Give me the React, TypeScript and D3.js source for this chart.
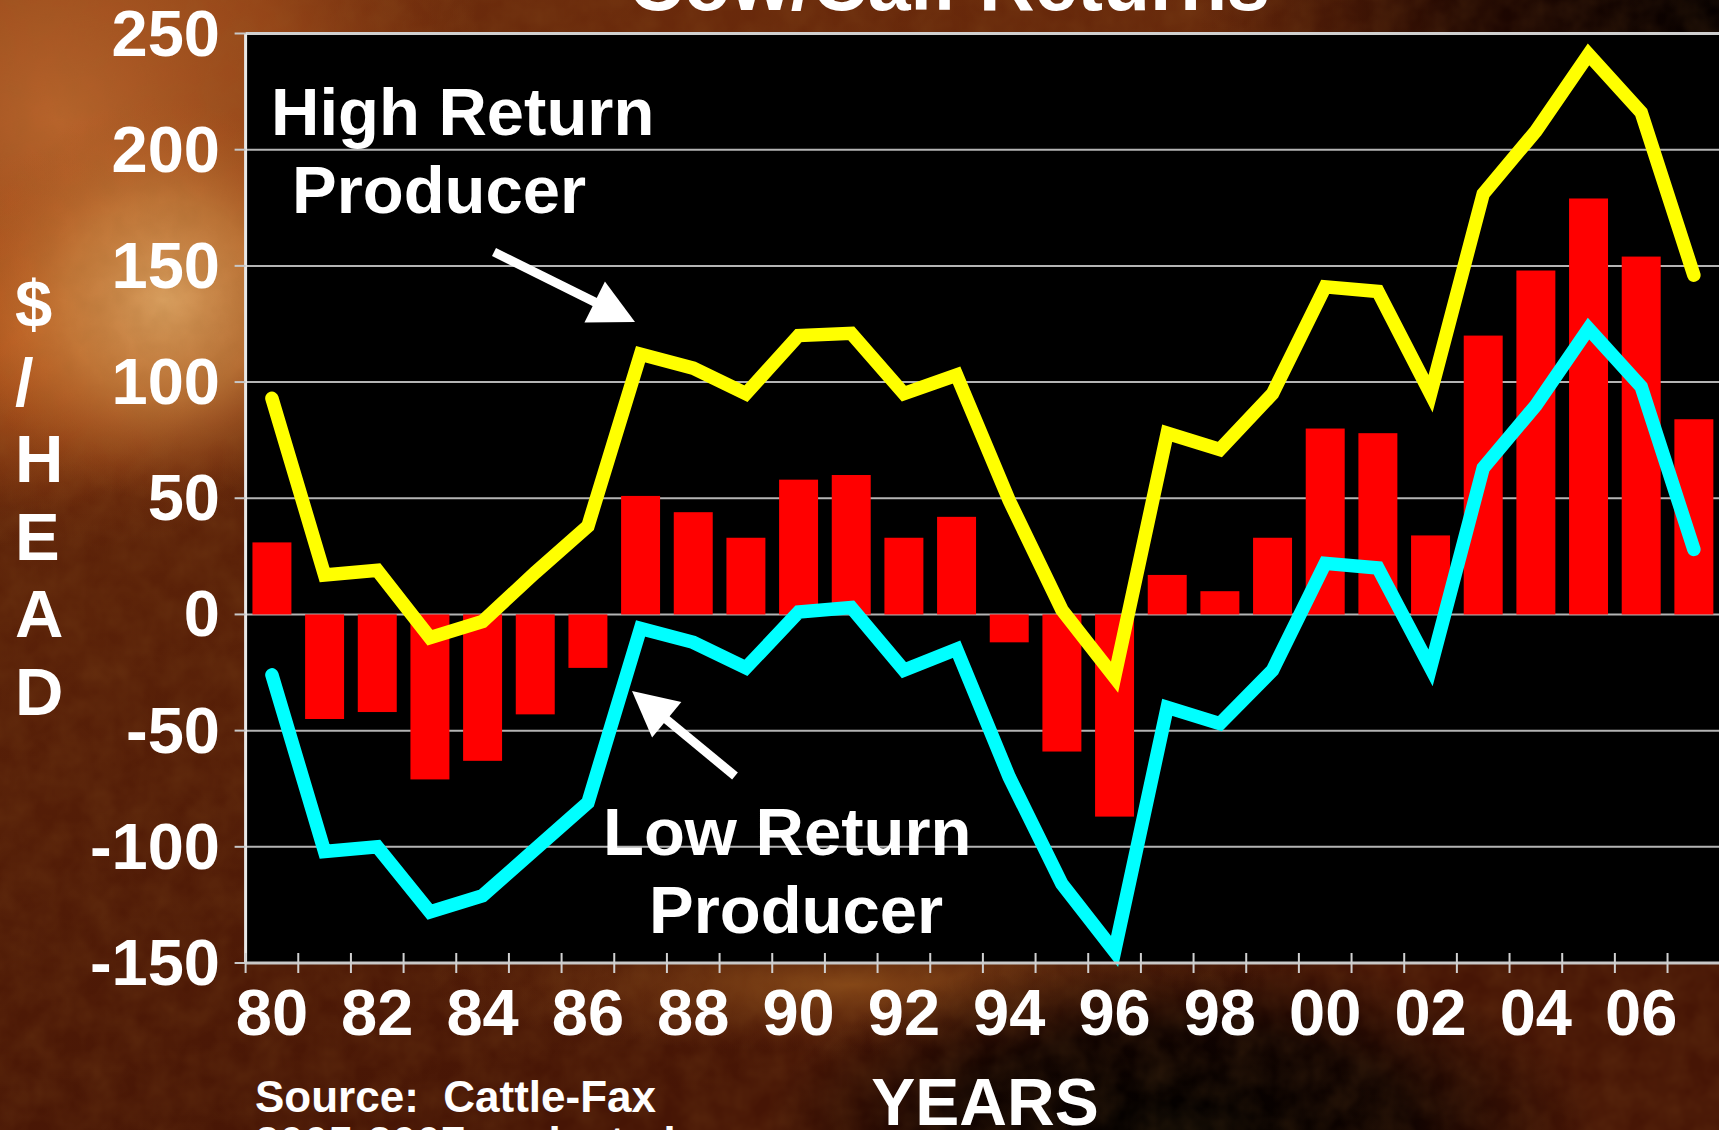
import React from 'react';
import * as d3 from 'd3';

// ---- data ----
const years = [1980,1981,1982,1983,1984,1985,1986,1987,1988,1989,1990,1991,1992,1993,1994,1995,1996,1997,1998,1999,2000,2001,2002,2003,2004,2005,2006,2007];
const averageReturn = [31,-45,-42,-71,-63,-43,-23,51,44,33,58,60,33,42,-12,-59,-87,17,10,33,80,78,34,120,148,179,154,84];
const highReturn = [93,17,19,-10,-3,18,38,112,106,95,120,121,95,103,49,2,-27,78,71,95,141,139,95,181,208,241,216,146];
const lowReturn = [-26,-102,-100,-128,-121,-101,-81,-6,-12,-23,1,3,-24,-15,-70,-116,-145,-40,-47,-24,22,20,-23,63,90,123,98,28];
const yTicks = [250,200,150,100,50,0,-50,-100,-150];
const xTickYears = [1980,1982,1984,1986,1988,1990,1992,1994,1996,1998,2000,2002,2004,2006];
const xTickLabels = ['80','82','84','86','88','90','92','94','96','98','00','02','04','06'];
const yAxisLetters = ['$','/','H','E','A','D'];

const W = 1719, H = 1130;
const FONT = '"Liberation Sans", Arial, Helvetica, sans-serif';

function Arrow({ x1, y1, x2, y2 }: { x1: number; y1: number; x2: number; y2: number }) {
  const dx = x2 - x1, dy = y2 - y1;
  const len = Math.hypot(dx, dy);
  const ux = dx / len, uy = dy / len;
  const hl = 45, hw = 23;
  const bx = x2 - ux * hl, by = y2 - uy * hl;
  const px = -uy, py = ux;
  return (
    <g>
      <line x1={x1} y1={y1} x2={bx + ux * 2} y2={by + uy * 2} stroke="#fff" strokeWidth={9} />
      <polygon points={`${x2},${y2} ${bx + px * hw},${by + py * hw} ${bx - px * hw},${by - py * hw}`} fill="#fff" />
    </g>
  );
}

export default function App() {
  const left = 245.6, right = 1720.2, top = 33.5, bottom = 963;
  const x = d3.scaleBand<number>().domain(years).range([left, right]).paddingInner(0).paddingOuter(0);
  const y = d3.scaleLinear().domain([-150, 250]).range([bottom, top]);
  const bw = x.bandwidth();
  const barW = bw * 0.74;
  const cx = (yr: number) => (x(yr) as number) + bw / 2;

  const line = d3.line<number>().x((_, i) => cx(years[i])).y((v) => y(v));

  return (
    <svg width={W} height={H} style={{ position: 'absolute', left: 0, top: 0 }} xmlns="http://www.w3.org/2000/svg">
      <defs>
        <linearGradient id="gBase" x1="0" y1="0" x2="0.3" y2="1">
          <stop offset="0" stopColor="#6e2c0c" />
          <stop offset="0.5" stopColor="#5a2108" />
          <stop offset="1" stopColor="#461505" />
        </linearGradient>
        <radialGradient id="gTopLeft" cx="60" cy="120" r="430" gradientUnits="userSpaceOnUse">
          <stop offset="0" stopColor="#b8642c" stopOpacity="1" />
          <stop offset="0.55" stopColor="#a24e1c" stopOpacity="0.75" />
          <stop offset="1" stopColor="#8a3a12" stopOpacity="0" />
        </radialGradient>
        <radialGradient id="gOrange" cx="40" cy="330" r="180" gradientUnits="userSpaceOnUse">
          <stop offset="0" stopColor="#cc6a28" stopOpacity="0.9" />
          <stop offset="1" stopColor="#b4561c" stopOpacity="0" />
        </radialGradient>
        <radialGradient id="gTan" cx="165" cy="300" r="200" gradientUnits="userSpaceOnUse">
          <stop offset="0" stopColor="#d9a060" stopOpacity="1" />
          <stop offset="0.5" stopColor="#c8803f" stopOpacity="0.75" />
          <stop offset="1" stopColor="#b0561e" stopOpacity="0" />
        </radialGradient>
        <radialGradient id="gDarkTR" cx="1719" cy="0" r="520" gradientUnits="userSpaceOnUse">
          <stop offset="0" stopColor="#050000" stopOpacity="1" />
          <stop offset="0.5" stopColor="#1a0400" stopOpacity="0.9" />
          <stop offset="1" stopColor="#2a0800" stopOpacity="0" />
        </radialGradient>
        <radialGradient id="gDarkBottom" cx="1180" cy="1130" r="260" gradientUnits="userSpaceOnUse" gradientTransform="translate(1180 1130) scale(1.6 0.7) translate(-1180 -1130)">
          <stop offset="0" stopColor="#000000" stopOpacity="1" />
          <stop offset="0.55" stopColor="#0a0100" stopOpacity="0.9" />
          <stop offset="1" stopColor="#1a0500" stopOpacity="0" />
        </radialGradient>
        <radialGradient id="gStreak" cx="850" cy="985" r="420" gradientUnits="userSpaceOnUse" gradientTransform="translate(850 985) scale(1 0.16) translate(-850 -985)">
          <stop offset="0" stopColor="#8a4a18" stopOpacity="0.9" />
          <stop offset="1" stopColor="#6a3010" stopOpacity="0" />
        </radialGradient>
        <filter id="noise" x="0" y="0" width="100%" height="100%">
          <feTurbulence type="fractalNoise" baseFrequency="0.035" numOctaves="3" seed="7" result="n" />
          <feColorMatrix type="matrix" values="0 0 0 0 0.3  0 0 0 0 0.12  0 0 0 0 0.02  0 0 0 0.9 -0.2" />
        </filter>
      </defs>

      {/* background */}
      <rect x={0} y={0} width={W} height={H} fill="url(#gBase)" />
      <rect x={0} y={0} width={W} height={H} fill="url(#gTopLeft)" />
      <rect x={0} y={0} width={W} height={H} fill="url(#gOrange)" />
      <rect x={0} y={0} width={W} height={H} fill="url(#gTan)" />
      <rect x={0} y={0} width={W} height={H} fill="url(#gStreak)" />
      <rect x={0} y={0} width={W} height={H} fill="url(#gDarkTR)" />
      <rect x={0} y={0} width={W} height={H} fill="url(#gDarkBottom)" />
      <rect x={0} y={0} width={W} height={H} filter="url(#noise)" opacity={0.3} />

      {/* title (cut off at top) */}
      <text x={949} y={10} textAnchor="middle" fill="#fff" fontFamily={FONT} fontWeight="bold" fontSize={77}>Cow/Calf Returns</text>

      {/* plot area */}
      <rect x={left} y={top} width={right - left} height={bottom - top} fill="#000" />

      {/* gridlines */}
      {yTicks.map((t) => (
        <line key={'g' + t} x1={left} x2={right} y1={y(t)} y2={y(t)} stroke="#b4b4b4" strokeWidth={2} />
      ))}

      {/* bars */}
      {averageReturn.map((v, i) => (
        <rect key={'b' + i} x={cx(years[i]) - barW / 2} y={Math.min(y(v), y(0))} width={barW} height={Math.abs(y(v) - y(0))} fill="#ff0000" />
      ))}

      {/* lines */}
      <path d={line(highReturn) || ''} fill="none" stroke="#ffff00" strokeWidth={13.5} strokeLinejoin="miter" strokeMiterlimit={3} strokeLinecap="round" />
      <path d={line(lowReturn) || ''} fill="none" stroke="#00ffff" strokeWidth={13.5} strokeLinejoin="miter" strokeMiterlimit={3} strokeLinecap="round" />

      {/* axes frame */}
      <line x1={left} x2={right} y1={top} y2={top} stroke="#d0d0d0" strokeWidth={3} />
      <line x1={left} x2={left} y1={top} y2={bottom} stroke="#e8e8e8" strokeWidth={3} />
      <line x1={left} x2={right} y1={bottom} y2={bottom} stroke="#c8c8c8" strokeWidth={3} />

      {/* y ticks */}
      {yTicks.map((t) => (
        <g key={'yt' + t}>
          <line x1={left - 11} x2={left} y1={y(t)} y2={y(t)} stroke="#c8c8c8" strokeWidth={2} />
          <text x={220} y={y(t) + 22} textAnchor="end" fill="#fff" fontFamily={FONT} fontWeight="bold" fontSize={65}>{t}</text>
        </g>
      ))}

      {/* x ticks at band edges */}
      {years.map((yr) => (
        <line key={'xt' + yr} x1={x(yr) as number} x2={x(yr) as number} y1={bottom - 10} y2={bottom + 10} stroke="#d0d0d0" strokeWidth={2} />
      ))}
      {xTickYears.map((yr, i) => (
        <text key={'xl' + yr} x={cx(yr)} y={1035} textAnchor="middle" fill="#fff" fontFamily={FONT} fontWeight="bold" fontSize={65}>{xTickLabels[i]}</text>
      ))}

      {/* y axis title */}
      {yAxisLetters.map((c, i) => (
        <text key={'ya' + i} x={15} y={327 + i * 77.6} fill="#fff" fontFamily={FONT} fontWeight="bold" fontSize={67}>{c}</text>
      ))}

      {/* x axis title */}
      <text x={985} y={1125} textAnchor="middle" fill="#fff" fontFamily={FONT} fontWeight="bold" fontSize={66}>YEARS</text>

      {/* source */}
      <text x={255} y={1112} fill="#fff" fontFamily={FONT} fontWeight="bold" fontSize={44} xmlSpace="preserve">Source:  Cattle-Fax</text>
      <text x={255} y={1158} fill="#fff" fontFamily={FONT} fontWeight="bold" fontSize={44}>2005-2007 projected</text>

      {/* annotations */}
      <text x={271} y={135} fill="#fff" fontFamily={FONT} fontWeight="bold" fontSize={67}>High Return</text>
      <text x={292} y={213} fill="#fff" fontFamily={FONT} fontWeight="bold" fontSize={67}>Producer</text>
      <Arrow x1={494} y1={252} x2={635} y2={322} />

      <text x={603} y={855} fill="#fff" fontFamily={FONT} fontWeight="bold" fontSize={67}>Low Return</text>
      <text x={649} y={933} fill="#fff" fontFamily={FONT} fontWeight="bold" fontSize={67}>Producer</text>
      <Arrow x1={735} y1={776} x2={632} y2={691} />
    </svg>
  );
}
